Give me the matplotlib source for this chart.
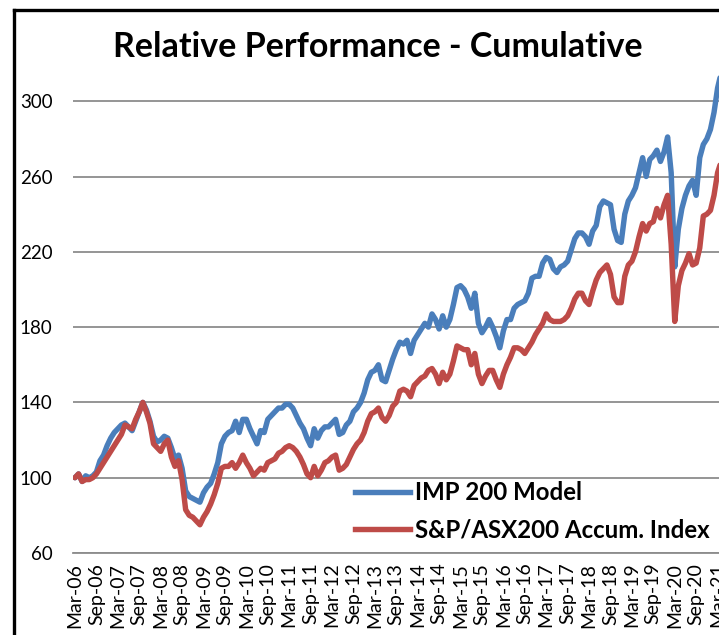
import matplotlib
matplotlib.use("Agg")
import matplotlib.pyplot as plt
from matplotlib.lines import Line2D

plt.rcParams['font.family'] = ['Lato', 'DejaVu Sans']

title = "Relative Performance - Cumulative"
series_names = ["IMP 200 Model", "S&P/ASX200 Accum. Index"]

imp200 = [
    100, 102, 98, 101, 100, 101, 103, 109, 112, 117, 121, 124, 126, 128, 129, 127, 125, 130, 135, 140,
    136, 130, 122, 119, 120, 122, 121, 116, 110, 112, 105, 93, 90, 89, 88, 87, 92, 95, 97, 102,
    108, 118, 122, 124, 125, 130, 124, 131, 131, 126, 122, 118, 125, 124, 131, 133, 135, 137, 137, 139,
    139, 137, 133, 129, 126, 121, 117, 126, 121, 125, 127, 127, 129, 131, 123, 124, 128, 130, 135, 137,
    140, 145, 152, 156, 157, 160, 152, 151, 157, 163, 168, 172, 171, 173, 166, 173, 176, 179, 182, 180,
    187, 184, 179, 186, 180, 184, 192, 201, 202, 200, 196, 190, 198, 182, 177, 180, 184, 180, 175, 169,
    178, 184, 184, 190, 192, 193, 194, 198, 206, 207, 207, 214, 217, 216, 211, 209, 212, 213, 215, 221,
    227, 230, 230, 228, 224, 231, 234, 244, 247, 246, 245, 232, 226, 225, 240, 247, 250, 254, 262, 270,
    260, 269, 271, 274, 268, 273, 281, 262, 212, 232, 243, 250, 255, 258, 250, 270, 277, 280, 285, 294,
    307, 315,
]

asx200 = [
    100, 102, 98, 99, 99, 100, 102, 105, 108, 111, 114, 117, 120, 123, 128, 127, 126, 131, 135, 140,
    135, 129, 118, 116, 114, 118, 120, 111, 106, 109, 99, 83, 80, 79, 77, 75, 79, 82, 86, 91,
    97, 105, 106, 106, 108, 105, 108, 112, 108, 105, 101, 103, 105, 104, 108, 109, 110, 113, 114, 116,
    117, 116, 114, 111, 107, 102, 100, 106, 101, 104, 108, 109, 111, 112, 104, 105, 107, 111, 115, 118,
    120, 124, 130, 134, 135, 137, 132, 130, 133, 138, 140, 146, 147, 146, 143, 149, 151, 153, 154, 157,
    158, 155, 150, 156, 152, 155, 162, 170, 169, 168, 168, 160, 166, 155, 150, 154, 157, 157, 152, 148,
    155, 160, 164, 169, 169, 168, 166, 169, 172, 176, 179, 182, 187, 184, 183, 183, 183, 184, 186, 190,
    195, 198, 198, 194, 192, 199, 205, 209, 211, 213, 208, 196, 193, 193, 207, 213, 215, 220, 228, 235,
    231, 235, 236, 243, 238, 245, 250, 224, 183, 202, 210, 214, 219, 213, 214, 222, 239, 240, 242, 250,
    262, 268,
]

tick_labels = [f"{m}-{y:02d}" for y in range(6, 22) for m in ("Mar", "Sep")][:-1]
y_ticks = [60, 100, 140, 180, 220, 260, 300]

W, H = 719, 635
fig = plt.figure(figsize=(W / 100, H / 100), dpi=100)

n = len(imp200)
px_per = 3.57
left_px, bottom_px = 73.2, 553
ymin, ymax = 60, 320
h_px = (ymax - ymin) * (75.3 / 40)
w_px = n * px_per
ax = fig.add_axes([left_px / W, (H - bottom_px) / H, w_px / W, h_px / H])

xs = list(range(n))
blue = "#4a7ebb"
red = "#be4b48"
ax.plot(xs, imp200, color=blue, lw=3.9, solid_joinstyle="round", solid_capstyle="round", zorder=3)
ax.plot(xs, asx200, color=red, lw=3.9, solid_joinstyle="round", solid_capstyle="round", zorder=3)

ax.set_xlim(-0.5, n - 0.5)
ax.set_ylim(ymin, ymax)
ax.set_yticks(y_ticks)
ax.set_yticklabels([str(v) for v in y_ticks], fontsize=13.5)
ax.set_xticks(list(range(0, 6 * len(tick_labels), 6)))
ax.set_xticklabels(tick_labels, rotation=90, fontsize=14)
ax.tick_params(axis="y", length=0, pad=15)
ax.tick_params(axis="x", length=0, pad=7)
ax.grid(axis="y", color="#8c8c8c", lw=1.3, zorder=1)
for s in ("top", "right", "left"):
    ax.spines[s].set_visible(False)
ax.spines["bottom"].set_color("#8c8c8c")
ax.spines["bottom"].set_linewidth(1.3)
ax.set_facecolor("none")

# title
fig.text(378 / W, 1 - 47 / H, title, ha="center", va="center", fontsize=24.5, fontweight="bold")

# legend
handles = [Line2D([], [], color=blue, lw=3.9), Line2D([], [], color=red, lw=3.9)]
leg = fig.legend(handles, series_names, loc="upper left", bbox_to_anchor=(355 / W, 1 - 481 / H),
                 frameon=False, prop={"weight": "bold", "size": 17.3}, handlelength=2.3,
                 handletextpad=0.2, labelspacing=0.62, borderpad=0, borderaxespad=0)

# chart border (cropped)
fig.add_artist(Line2D([14 / W, 14 / W], [0, 1 - 9.5 / H], color="black", lw=2.4, transform=fig.transFigure))
fig.add_artist(Line2D([14 / W, 1.01], [1 - 9.5 / H, 1 - 9.5 / H], color="black", lw=2.4, transform=fig.transFigure))

fig.savefig("out.png", dpi=100)
